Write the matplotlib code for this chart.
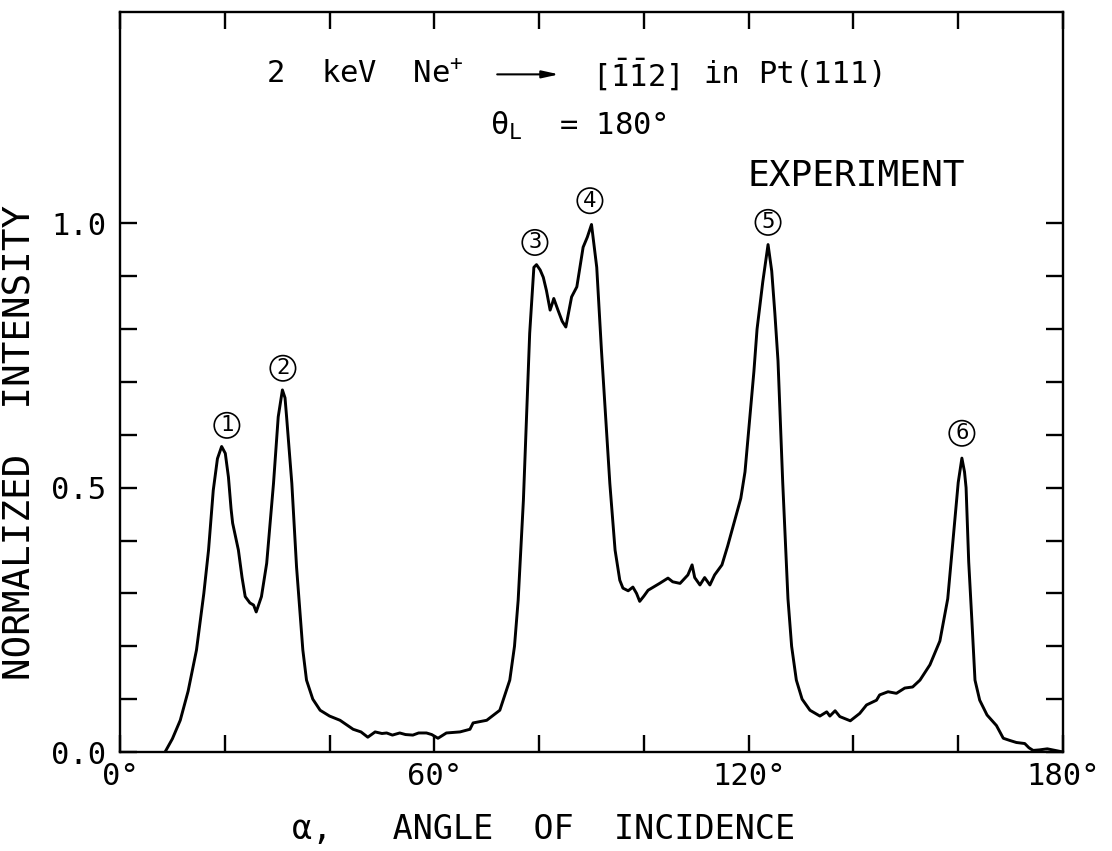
import matplotlib
matplotlib.use("Agg")
import matplotlib.pyplot as plt
import numpy as np

# ---- data ----
angle = [8.6, 10.0, 11.5, 13.0, 14.6, 16.0, 16.9, 17.8, 18.6, 19.4, 20.1, 20.7, 21.2, 21.5,
         22.6, 23.3, 23.9, 24.8, 25.5, 26.0, 27.0, 28.0, 29.3, 30.2, 31.0, 31.5, 31.8, 32.8,
         33.7, 34.9, 35.6, 36.8, 38.2, 40.0, 42.0, 44.5, 46.0, 47.3, 48.7, 50.0, 50.9, 52.0,
         53.4, 54.5, 55.9, 57.0, 58.5, 59.5, 60.7, 62.3, 64.9, 66.8, 67.4, 70.0, 72.5, 74.4,
         75.3, 76.0, 77.0, 77.6, 78.2, 78.6, 79.0, 79.5, 80.2, 80.8, 81.4, 82.1, 82.5, 82.8,
         83.6, 84.4, 85.1, 86.2, 87.2, 87.8, 88.4, 89.2, 90.0, 91.0, 91.9, 92.9, 93.5, 94.5,
         95.4, 96.0, 97.0, 97.9, 98.6, 99.2, 100.0, 100.8, 103.0, 104.6, 105.5, 106.9, 108.4,
         109.2, 109.7, 110.7, 111.6, 112.6, 113.5, 114.9, 116.0, 117.4, 118.5, 119.3, 120.2,
         121.0, 121.6, 122.7, 123.7, 124.4, 125.0, 125.6, 126.5, 127.5, 128.2, 129.1, 130.2,
         131.7, 133.6, 134.9, 135.5, 136.5, 137.4, 139.4, 141.2, 142.5, 144.4, 145.0, 146.6,
         148.2, 149.8, 151.3, 152.7, 154.6, 156.5, 158.0, 159.0, 160.0, 160.7, 161.2, 161.5,
         162.0, 162.6, 163.2, 164.1, 165.5, 167.3, 168.6, 169.8, 171.1, 172.7, 173.5, 174.3,
         175.5, 177.0, 178.5, 180.0]
intensity = [0.0, 0.025, 0.06, 0.115, 0.193, 0.30, 0.382, 0.495, 0.555, 0.578, 0.565, 0.52,
             0.46, 0.433, 0.382, 0.33, 0.294, 0.282, 0.278, 0.265, 0.294, 0.357, 0.508, 0.634,
             0.685, 0.67, 0.634, 0.508, 0.35, 0.193, 0.136, 0.10, 0.079, 0.068, 0.06, 0.043,
             0.038, 0.028, 0.038, 0.035, 0.036, 0.032, 0.036, 0.033, 0.032, 0.036, 0.036, 0.033,
             0.026, 0.036, 0.038, 0.043, 0.055, 0.06, 0.079, 0.136, 0.20, 0.287, 0.476, 0.634,
             0.792, 0.854, 0.917, 0.922, 0.912, 0.898, 0.873, 0.836, 0.848, 0.858, 0.836, 0.815,
             0.804, 0.861, 0.88, 0.917, 0.955, 0.974, 0.998, 0.917, 0.76, 0.603, 0.508, 0.382,
             0.325, 0.31, 0.305, 0.312, 0.30, 0.285, 0.295, 0.306, 0.319, 0.329, 0.322, 0.319,
             0.335, 0.354, 0.33, 0.316, 0.33, 0.316, 0.335, 0.354, 0.39, 0.44, 0.48, 0.53, 0.63,
             0.72, 0.80, 0.89, 0.96, 0.91, 0.83, 0.74, 0.51, 0.29, 0.20, 0.136, 0.10, 0.079,
             0.068, 0.076, 0.068, 0.078, 0.067, 0.059, 0.073, 0.089, 0.098, 0.108, 0.114, 0.111,
             0.121, 0.123, 0.136, 0.165, 0.21, 0.29, 0.40, 0.51, 0.556, 0.53, 0.50, 0.36, 0.25,
             0.136, 0.098, 0.07, 0.05, 0.026, 0.022, 0.018, 0.016, 0.008, 0.003, 0.004, 0.006,
             0.003, 0.0]

peak_labels = ["1", "2", "3", "4", "5", "6"]
peak_label_x = [20.4, 31.1, 79.2, 89.7, 123.7, 160.7]
peak_label_y = [0.618, 0.726, 0.964, 1.043, 1.002, 0.603]

x_major = [0, 60, 120, 180]
x_major_labels = ["0°", "60°", "120°", "180°"]
y_major = [0.0, 0.5, 1.0]
y_major_labels = ["0.0", "0.5", "1.0"]

# ---- styling ----
FONT = "DejaVu Sans Mono"
plt.rcParams["font.family"] = [FONT, "DejaVu Sans"]
plt.rcParams["mathtext.fontset"] = "custom"
plt.rcParams["mathtext.rm"] = FONT
plt.rcParams["mathtext.it"] = FONT
plt.rcParams["mathtext.default"] = "regular"

fig = plt.figure(figsize=(11.12, 8.51), dpi=100)
ax = fig.add_axes([120 / 1112, 99 / 851, (1063 - 120) / 1112, (752 - 12) / 851])

ax.plot(angle, intensity, color="black", lw=2.1, solid_joinstyle="round")

ax.set_xlim(0, 180)
ax.set_ylim(0, 1.4)
ax.set_xticks(x_major)
ax.set_xticklabels(x_major_labels)
ax.set_xticks(np.arange(0, 181, 20), minor=True)
ax.set_yticks(y_major)
ax.set_yticklabels(y_major_labels)
ax.set_yticks(np.arange(0, 1.01, 0.1), minor=True)

for side in ["left", "right", "top", "bottom"]:
    ax.spines[side].set_linewidth(1.7)

ax.tick_params(which="both", direction="in", top=True, right=True, width=1.7, length=12,
               labelsize=22)
ax.tick_params(axis="y", which="major", pad=10)
ax.tick_params(axis="x", which="major", pad=7)

ax.set_xlabel("α,   ANGLE  OF  INCIDENCE", fontsize=24)
ax.xaxis.set_label_coords(0.449, -0.083)
ax.set_ylabel("NORMALIZED  INTENSITY", fontsize=27)
ax.yaxis.set_label_coords(-0.086, 0.419)

# title pieces
ty = 1.282
ax.text(46.8, ty, "2  keV  Ne$^{+}$", fontsize=22, ha="center", va="center")
ax.annotate("", xy=(83.8, ty), xytext=(72.0, ty),
            arrowprops=dict(arrowstyle="-|>,head_length=1.0,head_width=0.22",
                            color="black", lw=1.5, shrinkA=0, shrinkB=0))
ax.text(98.3, ty, r"$[\bar{1}\bar{1}2]$", fontsize=22, ha="center", va="center")
ax.text(114.9, ty, "in", fontsize=22, ha="center", va="center")
ax.text(134.0, ty, "Pt(111)", fontsize=22, ha="center", va="center")

ax.text(87.5, 1.185, r"$\theta_{L}$  = 180°", fontsize=22, ha="center", va="center")
ax.text(140.6, 1.09, "EXPERIMENT", fontsize=26, ha="center", va="center")

for lab, px, py in zip(peak_labels, peak_label_x, peak_label_y):
    ax.text(px, py, lab, fontsize=16, ha="center", va="center",
            bbox=dict(boxstyle="circle,pad=0.12", fc="white", ec="black", lw=1.2))

fig.savefig("out.png", dpi=100)
